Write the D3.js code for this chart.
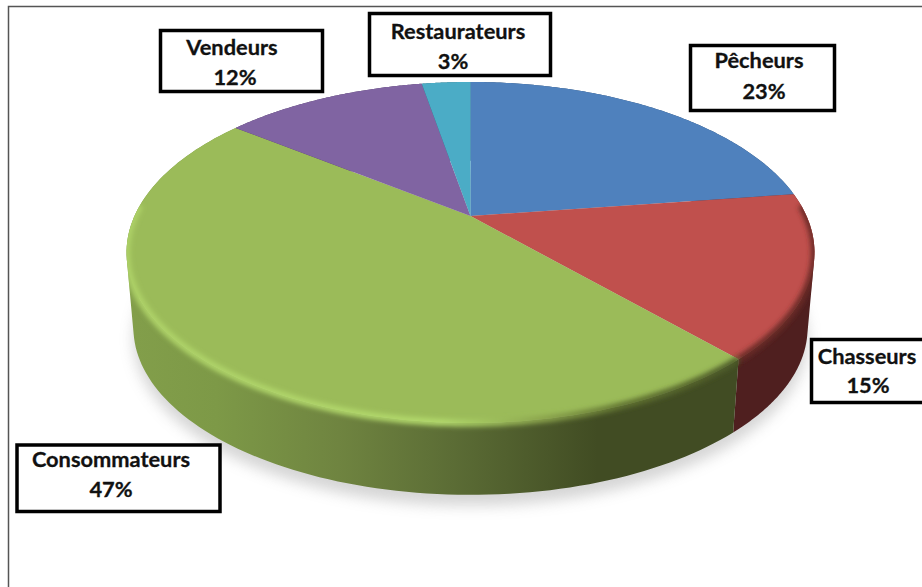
<!DOCTYPE html>
<html>
<head>
<meta charset="utf-8">
<script src="https://cdnjs.cloudflare.com/ajax/libs/d3/7.8.5/d3.min.js"></script>
<style>
  html, body { margin: 0; padding: 0; background: #fff; overflow: hidden; }
  text { font-family: Lato, "Open Sans", sans-serif; font-weight: 700; fill: #111; stroke: #111; stroke-width: 0.3; }
</style>
</head>
<body>
<div id="chart"></div>
<script>
  "use strict";

  // données (parts, les étiquettes en sont l'arrondi)
  var categories = ["Pêcheurs", "Chasseurs", "Consommateurs", "Vendeurs", "Restaurateurs"];
  var shares = [22.8, 15.49, 47.2, 11.7, 2.81];

  // couleurs
  var topColors = ["#4f81bd", "#c0504d", "#9bbb59", "#8064a2", "#4bacc6"];
  var wallStops = [
    [["0", "#2c4a6e"], ["1", "#2c4a6e"]],
    [["0", "#4f1f1f"], ["1", "#4f1f1f"]],
    [["0", "#829e4a"], ["0.12", "#7d9947"], ["0.3", "#6f8440"], ["0.47", "#5b6c35"], ["0.68", "#414c23"], ["1", "#414c23"]],
    [["0", "#4c3b60"], ["1", "#4c3b60"]],
    [["0", "#2d6676"], ["1", "#2d6676"]]
  ];
  var bevelStops = [
    [["0", "#4f81bd"], ["1", "#4f81bd"]],
    [["0", "#5e2624"], ["1", "#6a2a28"]],
    [["0", "#aed268"], ["0.45", "#b2d96c"], ["0.5", "#a5c962"], ["0.6", "#8aa34c"], ["0.72", "#5f7130"], ["1", "#414c23"]],
    [["0", "#8064a2"], ["1", "#8064a2"]],
    [["0", "#4bacc6"], ["1", "#4bacc6"]]
  ];

  // boîtes des étiquettes
  var labelBoxes = [
    { x0: 690.5, x1: 834.5, y0: 45.5, y1: 110.5, nameX: 759, nameY: 68, pctX: 764, pctY: 99 },
    { x0: 811.5, x1: 930, y0: 339.5, y1: 402.5, nameX: 867, nameY: 364, pctX: 868, pctY: 393 },
    { x0: 17, x1: 220, y0: 445, y1: 511.5, nameX: 111, nameY: 467, pctX: 111, pctY: 497 },
    { x0: 160.5, x1: 322.5, y0: 30.5, y1: 91.5, nameX: 232, nameY: 55, pctX: 235, pctY: 85 },
    { x0: 369.5, x1: 550.5, y0: 13.5, y1: 75.5, nameX: 458, nameY: 39, pctX: 453, pctY: 69 }
  ];

  var width = 922, height = 587;
  var cx = 470.5, cy = 216;     // sommet des parts
  var tilt = 0.214;             // perspective
  var depth = 76, wallShrink = 0.98;

  var svg = d3.select("#chart").append("svg")
    .attr("width", width)
    .attr("height", height);

  var defs = svg.append("defs");

  defs.append("filter").attr("id", "shadowBlur")
    .attr("x", "-10%").attr("y", "-10%").attr("width", "120%").attr("height", "120%")
    .append("feGaussianBlur").attr("stdDeviation", 7);

  defs.append("filter").attr("id", "bevelBlur")
    .attr("filterUnits", "userSpaceOnUse")
    .attr("x", 0).attr("y", 0).attr("width", width).attr("height", height)
    .append("feGaussianBlur").attr("stdDeviation", 2.4);

  // échelles
  var xScale = d3.scaleLinear().domain([-1, 1]).range([cx - 336, cx + 336]);
  var yScale = d3.scaleLinear().domain([-1, 1]).range([cy - 162.7, cy + 162.7]);

  var arcs = d3.pie().sort(null).value(d => d)(shares);
  var pctFormat = d3.format(".0f");

  // projection d'un point du disque (angle depuis le haut, sens horaire)
  function project(a, level) {
    var px = Math.sin(a);
    var py = -Math.cos(a);
    var w = 1 - tilt * py;
    var sx = xScale(px / w);
    var sy = yScale(py / w);
    if (!level) return [sx, sy];
    return [cx + (sx - cx) * wallShrink, cy + (sy - cy) * wallShrink + depth];
  }

  function rim(a0, a1, level) {
    return d3.range(0, 121).map(i => project(a0 + ((a1 - a0) * i) / 120, level));
  }

  // paroi d'une part : petits quadrilatères de même orientation
  function wallPath(a0, a1) {
    var t = rim(a0, a1, 0), b = rim(a0, a1, 1);
    return d3.range(0, t.length - 1).map(i =>
      "M" + d3.polygonHull([t[i], t[i + 1], b[i + 1], b[i]]).join("L") + "Z"
    ).join("");
  }

  var line = d3.line();
  var hull = d3.polygonHull(rim(0, 2 * Math.PI, 0).concat(rim(0, 2 * Math.PI, 1)));

  // ombre
  svg.append("path")
    .attr("d", line(rim(0, 2 * Math.PI, 1)) + "Z")
    .attr("transform", "translate(0, 11)")
    .attr("fill", "#8c8c8c")
    .attr("opacity", 0.36)
    .attr("filter", "url(#shadowBlur)");

  // cadre
  svg.append("path")
    .attr("d", "M8.5," + height + "V6.5H" + width)
    .attr("fill", "none")
    .attr("stroke", "#555")
    .attr("stroke-width", 1.5);

  // dégradés
  function addGradient(id, stops) {
    var g = defs.append("linearGradient")
      .attr("id", id)
      .attr("gradientUnits", "userSpaceOnUse")
      .attr("x1", 135).attr("x2", 815).attr("y1", 0).attr("y2", 0);
    g.selectAll("stop").data(stops).enter().append("stop")
      .attr("offset", d => d[0])
      .attr("stop-color", d => d[1]);
  }
  wallStops.forEach((s, i) => addGradient("wall" + i, s));
  bevelStops.forEach((s, i) => addGradient("bevel" + i, s));

  // contour global pour limiter le biseau
  defs.append("clipPath").attr("id", "pieOutline")
    .append("path")
    .attr("d", line(hull) + "Z");

  // parois
  var order = [4, 3, 0, 1, 2];
  svg.append("g").selectAll("path").data(order).enter().append("path")
    .attr("d", i => wallPath(arcs[i].startAngle, arcs[i].endAngle))
    .attr("fill", i => "url(#wall" + i + ")");

  // dessus
  svg.append("g").selectAll("path").data(arcs).enter().append("path")
    .attr("d", d => line([[cx, cy]].concat(rim(d.startAngle, d.endAngle, 0))) + "Z")
    .attr("fill", (d, i) => topColors[i]);

  // biseau, seulement sur l'avant du disque
  svg.append("g")
    .attr("clip-path", "url(#pieOutline)")
    .selectAll("path").data(arcs).enter()
    .filter((d, i) => i === 1 || i === 2)
    .append("path")
    .attr("d", d => line(rim(d.startAngle, d.endAngle, 0).filter(p => p[1] > 205)))
    .attr("fill", "none")
    .attr("stroke", d => "url(#bevel" + d.index + ")")
    .attr("stroke-width", 7)
    .attr("filter", "url(#bevelBlur)");

  // étiquettes
  var labels = svg.append("g").selectAll("g").data(categories).enter().append("g");

  labels.append("rect")
    .attr("x", (d, i) => labelBoxes[i].x0)
    .attr("y", (d, i) => labelBoxes[i].y0)
    .attr("width", (d, i) => labelBoxes[i].x1 - labelBoxes[i].x0)
    .attr("height", (d, i) => labelBoxes[i].y1 - labelBoxes[i].y0)
    .attr("fill", "#fff")
    .attr("stroke", "#000")
    .attr("stroke-width", 3.5);

  labels.append("text")
    .attr("x", (d, i) => labelBoxes[i].nameX)
    .attr("y", (d, i) => labelBoxes[i].nameY)
    .attr("text-anchor", "middle")
    .attr("font-size", 21.8)
    .text(d => d);

  labels.append("text")
    .attr("x", (d, i) => labelBoxes[i].pctX)
    .attr("y", (d, i) => labelBoxes[i].pctY)
    .attr("text-anchor", "middle")
    .attr("font-size", 21.8)
    .text((d, i) => pctFormat(shares[i]) + "%");
</script>
</body>
</html>
